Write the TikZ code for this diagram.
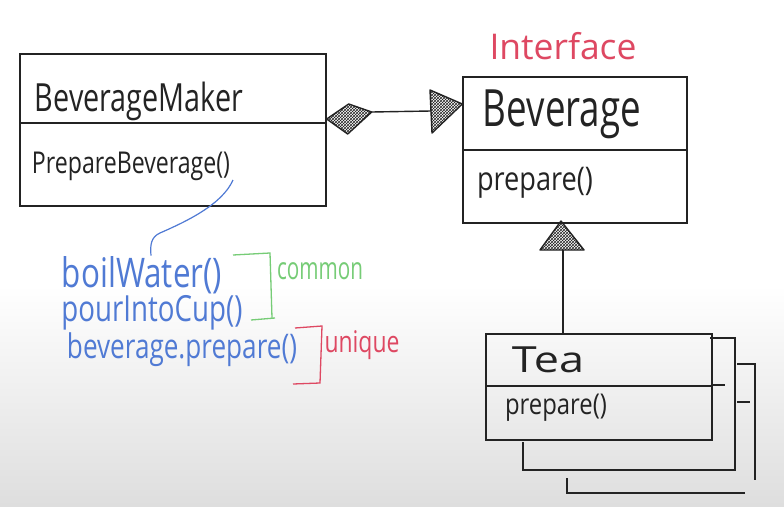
\documentclass[tikz,border=0pt]{standalone}
\usepackage{fontspec}
\setmainfont{Open Sans}
\usetikzlibrary{patterns}
\definecolor{ink}{RGB}{35,35,35}
\definecolor{hwblue}{RGB}{80,122,212}
\definecolor{hwgreen}{RGB}{118,204,118}
\definecolor{hwred}{RGB}{222,72,98}
\definecolor{bgbottom}{RGB}{222,222,222}
\newcommand{\fitw}[3]{\resizebox{#1pt}{!}{\scalebox{1}[#2]{#3}}}
\begin{document}
\begin{tikzpicture}[x=1pt,y=-1pt,line width=1.4pt,
  umlbox/.style={draw=ink,rectangle,line width=1.4pt,inner sep=0pt},
  txt/.style={inner sep=0pt,text=ink},
  bluetxt/.style={inner sep=0pt,text=hwblue},
  hatch/.style={draw=ink,pattern=crosshatch,pattern color=ink,line join=round},
  wire/.style={draw=ink,line width=1.4pt}]
\useasboundingbox (0,0) rectangle (784,506);
\fill[white] (0,0) rectangle (784,286);
\shade[top color=white,bottom color=bgbottom] (0,285) rectangle (784,506);

% --- BeverageMaker ---
\node[umlbox,minimum width=306,minimum height=152] (bm) at (173,130) {};
\coordinate (bmdiv) at (0,123);
\draw[wire] (bm.west |- bmdiv) -- (bm.east |- bmdiv);
\node[txt] (bmname) at (139,101) {\fitw{208}{1.35}{BeverageMaker}};
\node[txt] (bmop) at (131,166) {\fitw{198}{1.3}{PrepareBeverage()}};

% --- Beverage ---
\node[umlbox,minimum width=224,minimum height=146] (bev) at (575,150) {};
\coordinate (bevdiv) at (0,150);
\draw[wire] (bev.west |- bevdiv) -- (bev.east |- bevdiv);
\node[txt] (bevname) at (562,114) {\fitw{158}{1.4}{Beverage}};
\node[txt] (bevop) at (535,183) {\fitw{116}{1.2}{prepare()}};
\node[inner sep=0pt,text=hwred] (iface) at (563,46) {\fitw{147}{1.0}{Interface}};

% --- composition: BeverageMaker -> Beverage ---
\coordinate (dleft) at (bm.east |- 0,119);
\draw[hatch] (dleft) -- ++(22,-15) -- ++(23,8) coordinate (dright) -- ++(-24,22) -- cycle;
\coordinate (atip) at (bev.west |- 0,104);
\coordinate (abase) at (431,111);
\draw[wire] (dright) -- (abase);
\draw[hatch] (atip) -- (430,90) -- (432,133) -- cycle;

% --- Tea stack ---
\draw[wire] (710,338) -- (735,338) -- (735,470) -- (523,470) -- (523,442);
\draw[wire] (712,385) -- (725,385);
\draw[wire] (737,364) -- (755,364) -- (755,480);
\draw[wire] (745,493) -- (567,493) -- (567,478);
\draw[wire] (737,402) -- (750,402);
\node[umlbox,minimum width=226,minimum height=106] (tea) at (599,387) {};
\coordinate (teadiv) at (0,386);
\draw[wire] (tea.west |- teadiv) -- (tea.east |- teadiv);
\node[txt] (teaname) at (548,360) {\fitw{72}{0.8}{Tea}};
\node[txt] (teaop) at (556,408) {\fitw{102}{1.2}{prepare()}};

% --- inheritance Tea -> Beverage ---
\coordinate (itip) at (561,221);
\coordinate (ibase) at (563,250);
\draw[hatch] (itip) -- (584,250) -- (540,250) -- cycle;
\draw[wire] (ibase) -- (ibase |- tea.north);

% --- blue note ---
\node[bluetxt] (boil) at (142,275) {\fitw{160}{1.3}{boilWater()}};
\node[bluetxt] (pour) at (152,313) {\fitw{181}{1.3}{pourIntoCup()}};
\node[bluetxt] (bprep) at (182,350) {\fitw{230}{1.3}{beverage.prepare()}};
\coordinate (nstart) at (233,180);
\draw[hwblue,line width=1.2pt] (nstart) .. controls (222,205) and (185,222) .. (160,233)
   .. controls (151,237) and (150,245) .. (boil.north -| 151,0);

% --- brackets ---
\draw[hwgreen,line width=1.3pt] (233,255) -- (270,253) -- (272,318);
\draw[hwgreen,line width=1.3pt] (251,320) -- (275,318);
\node[inner sep=0pt,text=hwgreen] (common) at (320,271) {\fitw{86}{1.5}{common}};
\draw[hwred,line width=1.3pt] (295,328) -- (322,326) -- (320,383) -- (293,384);
\node[inner sep=0pt,text=hwred] (unique) at (362,345) {\fitw{75}{1.3}{unique}};
\end{tikzpicture}
\end{document}
